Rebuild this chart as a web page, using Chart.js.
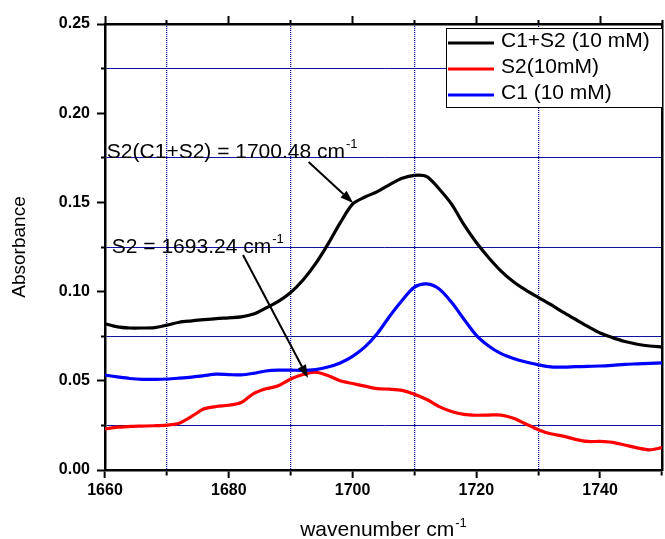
<!DOCTYPE html>
<html>
<head>
<meta charset="utf-8">
<script src="https://cdn.jsdelivr.net/npm/chart.js@4.4.0/dist/chart.umd.min.js"></script>
<style>
html,body{margin:0;padding:0;background:#fff;}
#wrap{width:665px;height:539px;}
</style>
</head>
<body>
<div id="wrap"><canvas id="c" width="665" height="539"></canvas></div>
<script>
// ---- data ----
const wavenumbers = [1660,1662,1664,1666,1668,1670,1672,1674,1676,1678,1680,1682,1684,1686,1688,1690,1692,1694,1696,1698,1700,1702,1704,1706,1708,1710,1712,1714,1716,1718,1720,1722,1724,1726,1728,1730,1732,1734,1736,1738,1740,1742,1744,1746,1748,1750];
const c1s2 = [0.0820,0.0802,0.0796,0.0796,0.0798,0.0812,0.0828,0.0836,0.0843,0.0849,0.0853,0.0858,0.0874,0.0908,0.0945,0.0995,0.1065,0.1155,0.1265,0.1385,0.1490,0.1530,0.1560,0.1600,0.1635,0.1652,0.1645,0.1575,0.1490,0.1375,0.1275,0.1190,0.1115,0.1055,0.1008,0.0968,0.0928,0.0885,0.0845,0.0805,0.0768,0.0742,0.0720,0.0705,0.0695,0.0690];
const s2 = [0.0230,0.0240,0.0244,0.0246,0.0248,0.0252,0.0262,0.0300,0.0343,0.0356,0.0363,0.0378,0.0428,0.0455,0.0472,0.0510,0.0535,0.0548,0.0530,0.0500,0.0485,0.0470,0.0456,0.0453,0.0446,0.0425,0.0395,0.0355,0.0328,0.0312,0.0307,0.0308,0.0308,0.0290,0.0258,0.0226,0.0203,0.0190,0.0172,0.0160,0.0160,0.0155,0.0140,0.0124,0.0113,0.0125];
const c1 = [0.0532,0.0522,0.0513,0.0508,0.0508,0.0510,0.0515,0.0521,0.0529,0.0537,0.0535,0.0533,0.0542,0.0555,0.0560,0.0560,0.0558,0.0563,0.0577,0.0600,0.0637,0.0690,0.0765,0.0862,0.0950,0.1025,0.1043,0.1015,0.0940,0.0845,0.0755,0.0695,0.0652,0.0625,0.0605,0.0590,0.0578,0.0577,0.0579,0.0581,0.0583,0.0587,0.0592,0.0595,0.0598,0.0600];
const seriesLabels = ['C1+S2 (10 mM)', 'S2(10mM)', 'C1 (10 mM)'];
const seriesColors = ['#000000', '#ff0000', '#0000ff'];
const xTickLabels = [1660, 1680, 1700, 1720, 1740];
const yTickLabels = ['0.00', '0.05', '0.10', '0.15', '0.20', '0.25'];
const xTitle = 'wavenumber cm';
const yTitle = 'Absorbance';
const annotationTexts = ['S2(C1+S2) = 1700.48 cm', 'S2 = 1693.24 cm'];
const annotationAt = [[1660.3, 0.1749], [1661.1, 0.1216]];
const arrowFrom = [[1692.9, 0.1726], [1682.3, 0.1205]];
const arrowTo = [[1700.1, 0.1497], [1692.8, 0.0516]];

// ---- styling ----
const FAMILY = '"Liberation Sans", Arial, Helvetica, sans-serif';
const GRID = '#12129e';
const CLEAR = 'rgba(0,0,0,0)';
Chart.defaults.font.family = FAMILY;
Chart.defaults.color = '#000';

const xLabelSet = new Set(xTickLabels.map(v => Math.round(v)));
const yLabelSet = new Set(yTickLabels.map(v => Math.round(parseFloat(v) * 1000)));
const xMinor = v => !xLabelSet.has(Math.round(v));
const yMinor = v => !yLabelSet.has(Math.round(v * 1000));

function drawSup(ctx, main, sup, x, y, size, supSize, rise) {
  ctx.font = size + 'px ' + FAMILY;
  ctx.fillText(main, x, y);
  const w = ctx.measureText(main).width;
  ctx.font = supSize + 'px ' + FAMILY;
  ctx.fillText(sup, x + w + 1, y - rise);
}
function supWidth(ctx, main, sup, size, supSize) {
  ctx.font = size + 'px ' + FAMILY;
  const w = ctx.measureText(main).width;
  ctx.font = supSize + 'px ' + FAMILY;
  return w + 1 + ctx.measureText(sup).width;
}

const decor = {
  id: 'decor',
  afterDatasetsDraw(chart) {
    const {ctx, chartArea} = chart;
    const xs = chart.scales.x, ys = chart.scales.y;
    ctx.save();
    // arrows
    ctx.strokeStyle = '#000';
    ctx.fillStyle = '#000';
    ctx.lineWidth = 2;
    for (let i = 0; i < arrowFrom.length; i++) {
      const x1 = xs.getPixelForValue(arrowFrom[i][0]), y1 = ys.getPixelForValue(arrowFrom[i][1]);
      const x2 = xs.getPixelForValue(arrowTo[i][0]), y2 = ys.getPixelForValue(arrowTo[i][1]);
      const a = Math.atan2(y2 - y1, x2 - x1);
      const hl = 13, hw = 4.5;
      const bx = x2 - hl * Math.cos(a), by = y2 - hl * Math.sin(a);
      ctx.beginPath(); ctx.moveTo(x1, y1); ctx.lineTo(bx, by); ctx.stroke();
      ctx.beginPath();
      ctx.moveTo(x2, y2);
      ctx.lineTo(bx + hw * Math.sin(a), by - hw * Math.cos(a));
      ctx.lineTo(bx - hw * Math.sin(a), by + hw * Math.cos(a));
      ctx.closePath(); ctx.fill();
    }
    // annotation texts
    ctx.textAlign = 'left';
    ctx.textBaseline = 'alphabetic';
    for (let i = 0; i < annotationTexts.length; i++) {
      const px = xs.getPixelForValue(annotationAt[i][0]);
      const py = ys.getPixelForValue(annotationAt[i][1]);
      drawSup(ctx, annotationTexts[i], '-1', px, py, 21, 13, 10);
    }
    // x axis title
    const tw = supWidth(ctx, xTitle, '-1', 21, 13);
    const cx = (chartArea.left + chartArea.right) / 2;
    drawSup(ctx, xTitle, '-1', cx - tw / 2, 536, 21, 13, 9);
    // legend
    const bw = 216, bh = 79;
    const bxL = chartArea.right - bw, byT = chartArea.top + 4;
    ctx.fillStyle = '#fff';
    ctx.fillRect(bxL, byT, bw, bh);
    ctx.strokeStyle = '#000';
    ctx.lineWidth = 1;
    ctx.strokeRect(Math.round(bxL) + 0.5, Math.round(byT) + 0.5, bw, bh);
    ctx.font = '21px ' + FAMILY;
    ctx.textBaseline = 'middle';
    chart.data.datasets.forEach((ds, i) => {
      const ry = byT + 15 + i * 26;
      ctx.strokeStyle = ds.borderColor;
      ctx.lineWidth = 3;
      ctx.beginPath(); ctx.moveTo(bxL + 2, ry); ctx.lineTo(bxL + 48, ry); ctx.stroke();
      ctx.fillStyle = '#000';
      ctx.fillText(ds.label, bxL + 55, ry - 1.5);
    });
    ctx.restore();
  }
};

const datasets = [
  {label: seriesLabels[0], data: wavenumbers.map((w, i) => ({x: w, y: c1s2[i]})), borderColor: seriesColors[0], order: 2},
  {label: seriesLabels[1], data: wavenumbers.map((w, i) => ({x: w, y: s2[i]})), borderColor: seriesColors[1], order: 1},
  {label: seriesLabels[2], data: wavenumbers.map((w, i) => ({x: w, y: c1[i]})), borderColor: seriesColors[2], order: 0}
].map(d => Object.assign(d, {borderWidth: 3.2, pointRadius: 0, tension: 0.3, fill: false, xAxisID: 'x', yAxisID: 'y'}));

new Chart(document.getElementById('c'), {
  type: 'line',
  data: {datasets},
  plugins: [decor],
  options: {
    responsive: false,
    animation: false,
    devicePixelRatio: 1,
    layout: {padding: 0},
    plugins: {legend: {display: false}, tooltip: {enabled: false}},
    scales: {
      x: {
        type: 'linear', position: 'bottom', min: 1660, max: 1750,
        afterFit: s => { s.height = 69; },
        ticks: {
          stepSize: 10, autoSkip: false, maxRotation: 0, padding: 3,
          font: {size: 16, weight: 'bold'}, color: '#000',
          callback: v => xMinor(v) ? '' : String(Math.round(v))
        },
        grid: {
          color: c => (c.tick && xMinor(c.tick.value)) ? GRID : CLEAR,
          lineWidth: 1.3,
          tickLength: 8, tickWidth: 2, tickColor: '#000',
          tickBorderDash: c => (c.tick && xMinor(c.tick.value)) ? [4, 100] : []
        },
        border: {color: '#000', width: 2.5, dash: c => (c.tick && xMinor(c.tick.value)) ? [1, 1] : []}
      },
      x2: {
        type: 'linear', position: 'top', min: 1660, max: 1750,
        afterFit: s => { s.height = 24; },
        ticks: {stepSize: 10, display: false, autoSkip: false},
        grid: {
          drawOnChartArea: false,
          tickLength: 8, tickWidth: 2, tickColor: '#000',
          tickBorderDash: c => (c.tick && xMinor(c.tick.value)) ? [0, 4, 4, 100] : []
        },
        border: {color: '#000', width: 2.5}
      },
      y: {
        type: 'linear', position: 'left', min: 0, max: 0.25,
        afterFit: s => { s.width = 105; },
        title: {display: true, text: yTitle, font: {size: 19}, color: '#000', padding: {top: 8, bottom: 0}},
        ticks: {
          stepSize: 0.025, autoSkip: false, padding: 7,
          font: {size: 16, weight: 'bold'}, color: '#000',
          callback: v => yMinor(v) ? '' : v.toFixed(2)
        },
        grid: {
          color: c => (c.tick && yMinor(c.tick.value)) ? GRID : CLEAR,
          lineWidth: 1,
          tickLength: 8, tickWidth: 2, tickColor: '#000',
          tickBorderDash: c => (c.tick && yMinor(c.tick.value)) ? [0, 4, 4, 100] : []
        },
        border: {color: '#000', width: 2.5}
      },
      y2: {
        type: 'linear', position: 'right', min: 0, max: 0.25,
        afterFit: s => { s.width = 2; },
        ticks: {display: false},
        grid: {drawOnChartArea: false, drawTicks: false},
        border: {color: '#000', width: 2.5}
      }
    }
  }
});
</script>
</body>
</html>
